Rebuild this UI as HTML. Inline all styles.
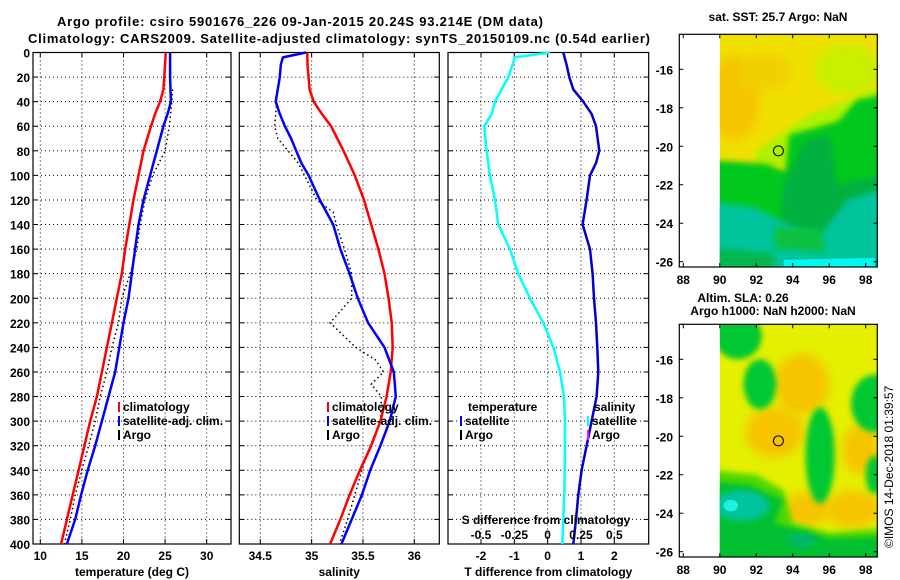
<!DOCTYPE html>
<html><head><meta charset="utf-8"><style>
html,body{margin:0;padding:0;background:#fff;}
svg{display:block;font-family:"Liberation Sans",sans-serif;font-weight:bold;}
</style></head><body>
<svg id="fig" width="900" height="580" viewBox="0 0 900 580" xmlns="http://www.w3.org/2000/svg">
<defs>
<filter id="blur" x="-20%" y="-20%" width="140%" height="140%"><feGaussianBlur stdDeviation="3"/></filter>
<filter id="blur2" x="-20%" y="-20%" width="140%" height="140%"><feGaussianBlur stdDeviation="5"/></filter>
<clipPath id="clipMap1"><rect x="719.8" y="34.3" width="157.5" height="232.7"/></clipPath>
<clipPath id="clipMap2"><rect x="719.8" y="324.3" width="157.5" height="232.7"/></clipPath>
</defs>
<text x="300" y="26" font-size="13" text-anchor="middle" textLength="486">Argo profile: csiro 5901676_226 09-Jan-2015 20.24S 93.214E (DM data)</text>
<text x="339" y="43" font-size="13" text-anchor="middle" textLength="622">Climatology: CARS2009. Satellite-adjusted climatology: synTS_20150109.nc (0.54d earlier)</text>
<g id="panels"></g>
<g id="maps"></g>
<text transform="translate(893,548) rotate(-90)" font-size="12" font-weight="normal">©IMOS 14-Dec-2018 01:39:57</text>
</svg>
<script>
// ---- data ----
const tDepth = [0,20,30,40,50,60,80,100,120,140,160,180,200,220,240,260,280,300,320,340,360,380,400];
const tClim  = [25.07,24.9,24.8,24.4,23.8,23.3,22.4,21.8,21.2,20.7,20.2,19.8,19.2,18.6,18.0,17.4,16.8,16.0,15.3,14.6,13.9,13.2,12.5];
const tSatDepth = [0,20,40,50,60,80,100,120,140,160,180,200,220,240,260,280,300,320,340,360,380,400];
const tSat   = [25.6,25.6,25.7,25.3,24.8,24.0,23.2,22.4,21.8,21.4,21.0,20.6,20.0,19.5,19.0,18.2,17.4,16.6,15.7,14.9,14.2,13.2];
const tArgoDepth = [30,40,60,80,100,120,140,160,180,200,220,240,260,280,300,320,340,360,380,400];
const tArgo  = [25.9,25.8,25.5,25.0,23.5,22.6,22.0,21.6,20.8,19.8,19.4,18.6,18.0,17.2,16.6,15.8,15.0,14.2,13.6,12.9];

const sClimDepth = [0,10,30,40,50,60,80,100,120,140,160,180,200,220,240,260,280,300,320,340,360,380,400];
const sClim  = [34.958,34.96,34.98,35.02,35.1,35.19,35.31,35.42,35.51,35.58,35.65,35.71,35.75,35.78,35.79,35.77,35.73,35.67,35.58,35.47,35.37,35.28,35.18];
const sSatDepth = [0,4,10,20,40,50,60,70,80,90,100,120,140,160,180,200,220,240,260,280,300,320,340,360,380,400];
const sSat   = [34.945,34.72,34.70,34.69,34.65,34.69,34.74,34.80,34.85,34.90,34.97,35.08,35.21,35.28,35.37,35.45,35.55,35.71,35.80,35.82,35.76,35.67,35.57,35.49,35.39,35.29];
const sArgoDepth = [40,60,70,90,120,130,140,160,180,200,220,240,250,260,270,280,300,320,340,360,380,400];
const sArgo  = [34.66,34.64,34.67,34.87,35.05,35.21,35.24,35.32,35.39,35.39,35.18,35.43,35.62,35.70,35.58,35.68,35.67,35.57,35.49,35.42,35.35,35.27];

const dTDepth = [0,10,20,30,40,50,60,80,90,100,120,140,160,180,200,220,240,260,280,300,320,340,360,380,400];
const dT   = [0.47,0.57,0.65,0.77,1.07,1.32,1.45,1.55,1.45,1.27,1.17,1.05,1.27,1.35,1.39,1.45,1.49,1.52,1.47,1.32,1.17,1.02,0.92,0.85,0.77];
const dSDepth = [0,4,20,30,40,50,60,80,100,120,140,160,180,200,220,240,260,280,300,340,360,400];
const dS   = [0.018,-0.245,-0.295,-0.345,-0.395,-0.42,-0.475,-0.458,-0.433,-0.395,-0.37,-0.283,-0.22,-0.133,-0.033,0.043,0.093,0.123,0.13,0.128,0.125,0.11];

const depthTicks = [0,20,40,60,80,100,120,140,160,180,200,220,240,260,280,300,320,340,360,380,400];
const tTicks = [10,15,20,25,30];
const sTicks = [34.5,35,35.5,36];
const dTTicks = [-2,-1,0,1,2];
const dSTickLabels = ["-0.5","-0.25","0","0.25","0.5"];
const dSTicks = [-0.5,-0.25,0,0.25,0.5];
const lonTicks = [88,90,92,94,96,98];
const latTicks = [-16,-18,-20,-22,-24,-26];

// ---- helpers ----
const NS="http://www.w3.org/2000/svg";
function mk(tag, attrs, parent){const e=document.createElementNS(NS,tag);for(const k in attrs)e.setAttribute(k,attrs[k]);parent.appendChild(e);return e;}
const yTop=52.5, yBot=544;
const yD = d => yTop + (d/400)*(yBot-yTop);
function lin(v0,p0,v1,p1){return v=>p0+(v-v0)*(p1-p0)/(v1-v0);}

const panelsG=document.getElementById('panels');
const panels=[
 {name:'temperature-panel', x0:33, x1:231, sx:lin(10,40.3,30,206.7), ticks:tTicks, xlabel:'temperature (deg C)', labelDepth:true},
 {name:'salinity-panel', x0:239.3, x1:439.3, sx:lin(34.5,260.3,36,414.3), ticks:sTicks, xlabel:'salinity'},
 {name:'difference-panel', x0:448, x1:648.7, sx:lin(-2,481,2,614.3), ticks:dTTicks, xlabel:'T difference from climatology'}
];
panels.forEach(p=>{
  const g=mk('g',{},panelsG);
  
  
  depthTicks.forEach(d=>{
    const y=yD(d);
    if(d>0&&d<400){
      const gl=mk('line',{x1:p.x0,x2:p.x1,y1:y,y2:y,stroke:'#000','stroke-width':1,'stroke-dasharray':'1,3'},g);
      
      
    }
    mk('line',{x1:p.x0,x2:p.x0+5,y1:y,y2:y,stroke:'#000'},g);
    mk('line',{x1:p.x1-5,x2:p.x1,y1:y,y2:y,stroke:'#000'},g);
    if(p.labelDepth){
      const t=mk('text',{x:p.x0-3,y:y+5,'font-size':12,'text-anchor':'end'},g);
      t.textContent=d;
      
      
    }
  });
  p.ticks.forEach(v=>{
    const x=p.sx(v);
    const gl=mk('line',{x1:x,x2:x,y1:yTop,y2:yBot,stroke:'#000','stroke-dasharray':'1,3'},g);
    
    
    mk('line',{x1:x,x2:x,y1:yBot-5,y2:yBot,stroke:'#000'},g);
    mk('line',{x1:x,x2:x,y1:yTop,y2:yTop+5,stroke:'#000'},g);
    const t=mk('text',{x:x,y:yBot+16,'font-size':12,'text-anchor':'middle'},g);
    t.textContent=v;
    
    
  });
  const fr=mk('rect',{x:p.x0,y:yTop,width:p.x1-p.x0,height:yBot-yTop,fill:'none',stroke:'#000','stroke-width':1.2},g);
  
  
  const xl=mk('text',{x:(p.x0+p.x1)/2,y:576,'font-size':12,'text-anchor':'middle'},g);
  xl.textContent=p.xlabel;
  
  
  p.g=g;
});

function line(g,sx,vals,depths,color,w,dash,name){
  const pts=vals.map((v,i)=>sx(v).toFixed(1)+','+yD(depths[i]).toFixed(1)).join(' ');
  const a={points:pts,fill:'none',stroke:color,'stroke-width':w,'stroke-linejoin':'round'};
  if(dash)a['stroke-dasharray']=dash;
  const e=mk('polyline',a,g);
  
  
}
const P1=panels[0],P2=panels[1],P3=panels[2];
line(P1.g,P1.sx,tArgo,tArgoDepth,'#000',1.5,'1.5,3','argo-temperature-line');
line(P1.g,P1.sx,tClim,tDepth,'#f00',2.5,null,'climatology-temperature-line');
line(P1.g,P1.sx,tSat,tSatDepth,'#00f',2.5,null,'satellite-temperature-line');
line(P2.g,P2.sx,sArgo,sArgoDepth,'#000',1.5,'1.5,3','argo-salinity-line');
line(P2.g,P2.sx,sClim,sClimDepth,'#f00',2.5,null,'climatology-salinity-line');
line(P2.g,P2.sx,sSat,sSatDepth,'#00f',2.5,null,'satellite-salinity-line');
const sxS=lin(-0.5,481,0.5,614.3);
line(P3.g,sxS,dS,dSDepth,'#0ff',2.5,null,'salinity-difference-line');
line(P3.g,P3.sx,dT,dTDepth,'#00c',2.5,null,'temperature-difference-line');

// S axis labels in difference panel
const sl=mk('text',{x:546,y:524,'font-size':12,'text-anchor':'middle'},P3.g);
sl.textContent='S difference from climatology';


dSTicks.forEach((v,i)=>{
  const t=mk('text',{x:sxS(v),y:539,'font-size':12,'text-anchor':'middle'},P3.g);
  t.textContent=dSTickLabels[i];
  
  
});

// legends
function legend(g,x,y,color,label,name){
  const lg=mk('g',{},g);
  
  
  mk('rect',{x:x,y:y-9,width:2,height:10,fill:color},lg);
  const t=mk('text',{x:x+5,y:y,'font-size':12},lg);
  t.textContent=label;
}
[[P1.g,118],[P2.g,327]].forEach(([g,x])=>{
  legend(g,x,411,'#f00','climatology','legend-climatology');
  legend(g,x,425,'#00f','satellite-adj. clim.','legend-satellite');
  legend(g,x,439,'#000','Argo','legend-argo');
});
const tt=mk('text',{x:468,y:411,'font-size':12},P3.g);tt.textContent='temperature';


legend(P3.g,460,425,'#00f','satellite','legend-t-satellite');
legend(P3.g,460,439,'#000','Argo','legend-t-argo');
const st=mk('text',{x:594,y:411,'font-size':12},P3.g);st.textContent='salinity';


legend(P3.g,587,425,'#0ff','satellite','legend-s-satellite');
legend(P3.g,587,439,'#f0f','Argo','legend-s-argo');

// ---- maps ----
const mapsG=document.getElementById('maps');
const mx = lon => 683.3 + (lon-88)*18.24;
function mapAxes(g,yoff){
  const my = lat => 69.3 + yoff + (-16-lat)*19.24;
  const fr=mk('rect',{x:679.3,y:34.3+yoff,width:198,height:232.7,fill:'none',stroke:'#000','stroke-width':1.2},g);
  
  
  lonTicks.forEach(l=>{
    const x=mx(l);
    mk('line',{x1:x,x2:x,y1:34.3+yoff,y2:38.3+yoff,stroke:'#000'},g);
    mk('line',{x1:x,x2:x,y1:263+yoff,y2:267+yoff,stroke:'#000'},g);
    const t=mk('text',{x:x,y:284+yoff,'font-size':12,'text-anchor':'middle'},g);t.textContent=l;
    
    
  });
  latTicks.forEach(l=>{
    const y=my(l);
    mk('line',{x1:679.3,x2:683.3,y1:y,y2:y,stroke:'#000'},g);
    mk('line',{x1:873.3,x2:877.3,y1:y,y2:y,stroke:'#000'},g);
    const t=mk('text',{x:673,y:y+5,'font-size':12,'text-anchor':'end'},g);t.textContent=l;
    
    
  });
  const circ=mk('circle',{cx:mx(93.214),cy:my(-20.24),r:5,fill:'none',stroke:'#000','stroke-width':1},g);
  
  
}
function poly(g,my,pts,fill,filt){
  const e=mk('polygon',{points:pts.map(p=>mx(p[0]).toFixed(1)+','+my(p[1]).toFixed(1)).join(' '),fill:fill},g);
  if(filt)e.setAttribute('filter',filt);
  return e;
}
function ell(g,my,lon,lat,rx,ry,fill,filt){
  const e=mk('ellipse',{cx:mx(lon),cy:my(lat),rx:rx*18.24,ry:ry*19.24,fill:fill},g);
  if(filt)e.setAttribute('filter',filt);
  return e;
}
// map 1: SST
const m1=mk('g',{},mapsG);


const my1 = lat => 69.3 + (-16-lat)*19.24;
const f1=mk('g',{'clip-path':'url(#clipMap1)'},m1);
mk('rect',{x:719.8,y:34.3,width:157.5,height:232.7,fill:'#f0e000'},f1);
ell(f1,my1,90.8,-17.5,1.4,2.2,'#f5c400','url(#blur2)');
ell(f1,my1,92.5,-16.2,1.5,1,'#f2d000','url(#blur2)');
ell(f1,my1,97,-16,1.8,1.3,'#c8f000','url(#blur2)');
poly(f1,my1,[[92,-20.2],[93.5,-19.3],[95,-18.3],[96.5,-17.8],[99,-16.8],[99,-21],[92,-21]],'#b0f000','url(#blur)');
poly(f1,my1,[[89,-20.7],[92.5,-20.9],[93.6,-21.3],[93.8,-19.4],[95,-19.1],[96.5,-18.7],[97.5,-17.6],[99,-17.3],[99,-27],[89,-27]],'#00c81c','url(#blur)');
poly(f1,my1,[[94.6,-19.8],[96,-19.4],[96.5,-22],[99,-21.5],[99,-27],[93,-27],[93.5,-22]],'#00b040','url(#blur)');
poly(f1,my1,[[89,-22.8],[92,-23.2],[94,-24.2],[95.5,-24.6],[97,-22.8],[99,-22.2],[99,-27],[89,-27]],'#00c49c','url(#blur)');
poly(f1,my1,[[93,-24.2],[95.5,-24.3],[95.8,-25.5],[93,-25.3]],'#10c040','url(#blur)');
poly(f1,my1,[[89,-25.2],[93,-25.6],[93,-27],[89,-27]],'#00b850','url(#blur)');
poly(f1,my1,[[93.5,-25.9],[98.5,-25.8],[98.5,-27],[93.5,-27]],'#00f8f0',null);
mapAxes(m1,0);
const t1=mk('text',{x:778,y:21,'font-size':12,'text-anchor':'middle'},m1);t1.textContent='sat. SST: 25.7 Argo: NaN';



// map 2: SLA
const m2=mk('g',{},mapsG);


const my2 = lat => 359.3 + (-16-lat)*19.24;
const f2=mk('g',{'clip-path':'url(#clipMap2)'},m2);
mk('rect',{x:719.8,y:324.3,width:157.5,height:232.7,fill:'#e4f000'},f2);
[[94.5,-17.3,1.5,1.6],[93,-19.8,1.6,1.3],[97.7,-20.7,1,1.3],[97.3,-23.8,1.5,1],[94.8,-23.8,1.3,0.9]].forEach(e=>ell(f2,my2,e[0],e[1],e[2],e[3],'#f6c400','url(#blur2)'));
[[91,-14.8,1.3,1.2],[92.2,-17.3,0.9,1.3],[98.5,-18.3,1.3,1.5],[95.5,-21,0.8,2.5],[98.5,-22,0.5,1]].forEach(e=>ell(f2,my2,e[0],e[1],e[2],e[3],'#00c830','url(#blur)'));
poly(f2,my2,[[89,-21.7],[92,-22],[93.5,-22.8],[94,-24.5],[96,-25],[99,-24.8],[99,-27],[89,-27]],'#50d800','url(#blur)');
poly(f2,my2,[[89,-22.3],[91.5,-22.5],[93.5,-23.3],[93,-24.5],[96,-25.3],[99,-25.2],[99,-27],[89,-27]],'#00c030','url(#blur)');
ell(f2,my2,91.2,-23.6,1.5,0.8,'#00c49c','url(#blur)');
ell(f2,my2,90.6,-23.6,0.4,0.3,'#20f0e0',null);
ell(f2,my2,94.5,-25.4,0.8,0.4,'#00b868','url(#blur)');
mapAxes(m2,290);
const t2=mk('text',{x:743,y:302,'font-size':12,'text-anchor':'middle'},m2);t2.textContent='Altim. SLA: 0.26';


const t3=mk('text',{x:773,y:315,'font-size':12,'text-anchor':'middle'},m2);t3.textContent='Argo h1000: NaN h2000: NaN';


</script>
</body></html>
